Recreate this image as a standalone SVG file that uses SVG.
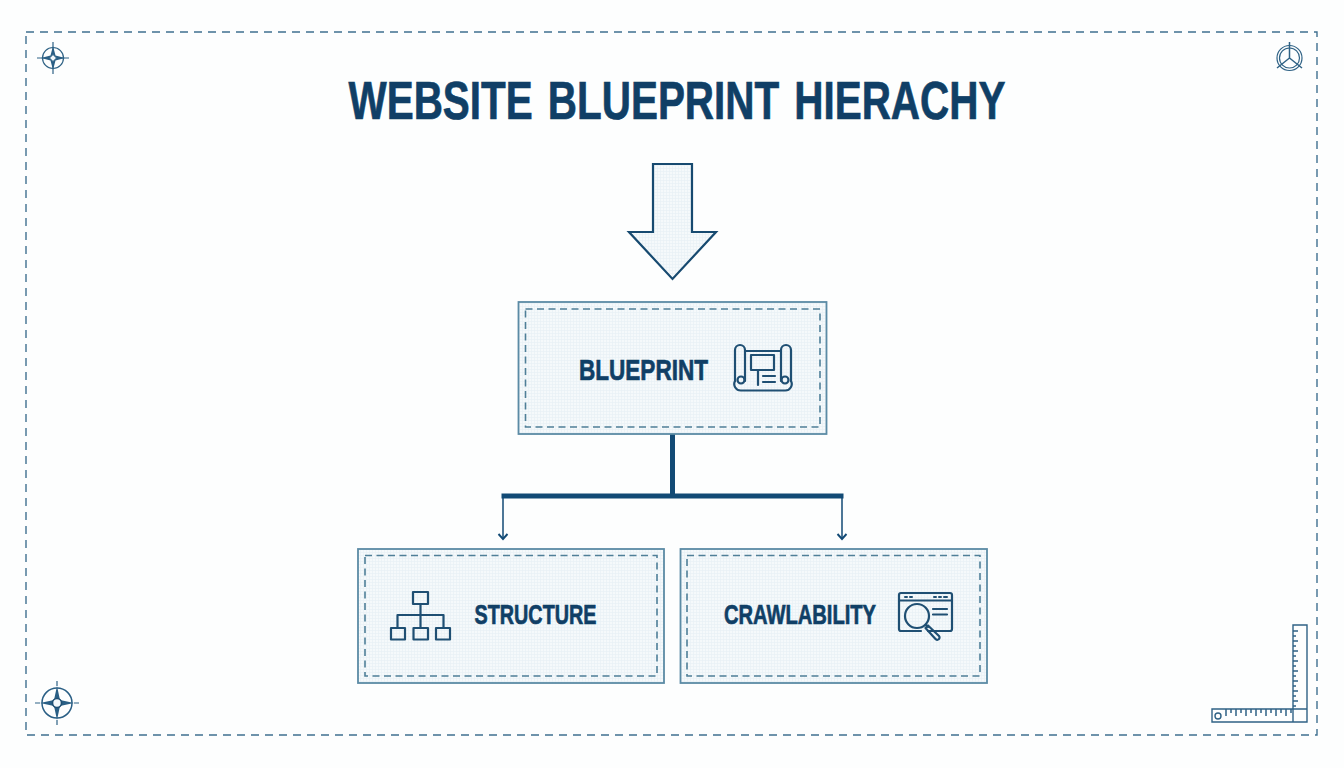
<svg xmlns="http://www.w3.org/2000/svg" width="1344" height="768" viewBox="0 0 1344 768">
<style>
.t{font-family:"Liberation Sans Narrow","Liberation Sans",Arial,sans-serif;font-weight:700;fill:#103f66;stroke:#103f66;stroke-width:.7}
.box{fill:url(#grid);stroke:#5b8ba5;stroke-width:1.8}
.dash{fill:none;stroke:#4f7f98;stroke-width:1.6;stroke-dasharray:7 4.5}
.ic{fill:none;stroke:#1f4f73;stroke-width:2.2;stroke-linejoin:round;stroke-linecap:round}
.mark{fill:none;stroke:#2f6285;stroke-width:1.2}
.star{fill:#2a5f85;stroke:none}
.conn{fill:none;stroke:#124a75}
.tick{fill:none;stroke:#2f6285;stroke-width:1.5}
</style>
<defs>
<pattern id="grid" width="3" height="3" patternUnits="userSpaceOnUse">
<rect width="3" height="3" fill="#f5f9fb"/>
<path d="M0 .5H3M.5 0V3" stroke="#e8f0f5" stroke-width=".7"/>
</pattern>
<marker id="chev" markerWidth="12" markerHeight="12" refX="9" refY="6" orient="auto" markerUnits="userSpaceOnUse" viewBox="0 0 12 12">
<path d="M4 1.500L9 6L4 10.500" fill="none" stroke="#124a75" stroke-width="1.900"/>
</marker>
</defs>
<rect width="1344" height="768" fill="#fdfefe"/>
<g id="frame">
<path d="M26 32H1317V735H26Z" fill="none" stroke="#3f7090" stroke-width="1.400" stroke-dasharray="8 6"/>
</g>
<g id="title">
<text class="t" x="677" y="119" font-size="54" text-anchor="middle" textLength="657" lengthAdjust="spacingAndGlyphs" word-spacing="5">WEBSITE BLUEPRINT HIERACHY</text>
</g>
<g id="down-arrow">
<path d="M653 164H692V232H716L672.500 279L629 232H653Z" fill="url(#grid)" stroke="#174a70" stroke-width="2.200"/>
</g>
<g id="connectors">
<path class="conn" stroke-width="5" d="M672.500 434V496"/>
<path class="conn" stroke-width="5" d="M501.500 496H843.500"/>
<path class="conn" stroke-width="1.500" d="M503 497V539" marker-end="url(#chev)"/>
<path class="conn" stroke-width="1.500" d="M842 497V539" marker-end="url(#chev)"/>
</g>
<g id="node-blueprint">
<rect class="box" x="518.500" y="302" width="308" height="132"/>
<rect class="dash" x="525.500" y="309" width="294.500" height="118"/>
<text class="t" x="643.500" y="380" font-size="30" text-anchor="middle" textLength="129" lengthAdjust="spacingAndGlyphs">BLUEPRINT</text>
<g class="ic">
<path d="M735 381V350a5 5 0 0 1 10 0V381M781 381V350a5 5 0 0 1 10 0V381"/>
<path d="M745 351H781"/>
<path d="M735 381a6.500 6.500 0 0 0 6 9.500H785a6.500 6.500 0 0 0 6-9.500"/>
<circle cx="741" cy="380" r="3.500"/><circle cx="785" cy="380" r="3.500"/>
<rect x="751" y="355" width="23" height="15"/>
<path d="M758 370V385M763 376H775M763 382H775"/>
</g>
</g>
<g id="node-structure">
<rect class="box" x="358" y="549" width="306" height="134"/>
<rect class="dash" x="365" y="555.500" width="292" height="120.500"/>
<text class="t" x="535.500" y="624" font-size="28" text-anchor="middle" textLength="122" lengthAdjust="spacingAndGlyphs">STRUCTURE</text>
<g class="ic">
<rect x="413" y="592" width="15" height="12"/>
<rect x="391" y="628" width="14" height="11.500"/>
<rect x="413.500" y="628" width="14.500" height="11.500"/>
<rect x="436" y="628" width="14" height="11.500"/>
<path d="M420.500 604V628M397.500 628V615H443.500V628"/>
</g>
</g>
<g id="node-crawlability">
<rect class="box" x="680.500" y="549" width="306.500" height="134"/>
<rect class="dash" x="687" y="555.500" width="293" height="120.500"/>
<text class="t" x="800" y="624" font-size="28" text-anchor="middle" textLength="152" lengthAdjust="spacingAndGlyphs">CRAWLABILITY</text>
<g class="ic">
<path d="M928 631H950a2 2 0 0 0 2-2V595a2 2 0 0 0-2-2H901a2 2 0 0 0-2 2V629a2 2 0 0 0 2 2H921"/>
<path d="M899 600.500H952M933 609H947M933 614.500H947"/>
<path d="M905 597H907M910 597H912M934 597H936M939 597H941M944 597H947" stroke-width="2"/>
<circle cx="917" cy="616" r="12"/>
<path d="M926 625L928 627"/>
<path d="M928 625.500L939 636a2.200 2.200 0 0 1-3.500 3L925.500 628Z"/>
</g>
</g>
<g id="mark-top-left">
<circle class="mark" cx="53" cy="58" r="10.500"/>
<path class="mark" d="M37 58H69M53 42V74"/>
<path class="star" d="M53 46L55.500 55.500L65 58L55.500 60.500L53 70L50.500 60.500L41 58L50.500 55.500Z"/>
<path d="M53 54.500L56.500 58L53 61.500L49.500 58Z" fill="#f3f8fb" stroke="#2f6285"/>
</g>
<g id="mark-top-right">
<circle class="mark" cx="1289.500" cy="58" r="12.500"/>
<circle class="mark" cx="1289.500" cy="58" r="10"/>
<path d="M1289.500 42V58L1277 68M1289.500 58L1302 68" fill="none" stroke="#2f6285" stroke-width="1.500"/>
</g>
<g id="mark-bottom-left">
<circle cx="57" cy="703" r="15" fill="none" stroke="#2a5f85" stroke-width="1.500"/>
<path class="mark" d="M35 703H40M74 703H79M57 681V686M57 720V725" stroke-width="1.500"/>
<path class="star" d="M57 686L60 700L74 703L60 706L57 720L54 706L40 703L54 700Z"/>
<circle cx="57" cy="703" r="4.500" fill="#f3f8fb" stroke="#1f4f73" stroke-width="1.600"/>
</g>
<g id="ruler">
<path d="M1293 625H1307V722H1212V709H1293ZM1293 709V722M1293 709H1307" fill="#fdfefe" stroke="#2f6285" stroke-width="1.400"/>
<circle cx="1218" cy="716" r="3" fill="none" stroke="#2f6285" stroke-width="1.400"/>
<path class="tick" d="M1293 631H1298M1293 636H1296M1293 641H1298M1293 646H1296M1293 651H1298M1293 656H1296M1293 661H1298M1293 666H1296M1293 671H1298M1293 676H1296M1293 681H1298M1293 686H1296M1293 691H1298M1293 696H1296M1293 701H1298M1293 706H1296"/>
<path class="tick" d="M1226 709V716M1231 709V713M1236 709V716M1241 709V713M1246 709V716M1251 709V713M1256 709V716M1261 709V713M1266 709V716M1271 709V713M1276 709V716M1281 709V713M1286 709V716M1291 709V713"/>
</g>
</svg>
